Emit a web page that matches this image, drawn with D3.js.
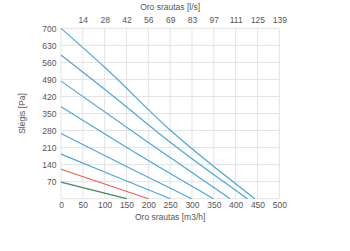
<!DOCTYPE html>
<html>
<head>
<meta charset="utf-8">
<script src="https://cdn.jsdelivr.net/npm/d3@7"></script>
<style>
  body { margin: 0; background: #fff; }
  text { font-family: "Liberation Sans", Arial, sans-serif; fill: #555; }
</style>
</head>
<body>
<svg id="chart"></svg>
<script>
var width = 350;
var height = 251;

// flow [m3/h], pressure [Pa]
var speed1 = [[0, 700], [100, 540], [250, 282], [444, 0]];
var speed2 = [[0, 590], [100, 450], [250, 232], [427, 0]];
var speed3 = [[0, 483], [200, 231], [387, 0]];
var speed4 = [[0, 378], [200, 157], [349, 0]];
var speed5 = [[0, 268], [150, 132], [299, 0]];
var speed6 = [[0, 183], [125, 91], [250, 0]];
var speedRed = [[0, 121], [200, 0]];
var speedGreen = [[0, 68], [150, 0]];

var blueLines = [speed1, speed2, speed3, speed4, speed5, speed6];

var xTicks = [0, 50, 100, 150, 200, 250, 300, 350, 400, 450, 500];
var yTicks = [70, 140, 210, 280, 350, 420, 490, 560, 630, 700];

var margin = { top: 28.3, right: 70.7, bottom: 52.3, left: 61 };

var svg = d3.select("#chart").attr("width", width).attr("height", height);

var x = d3.scaleLinear().domain([0, 500]).range([margin.left, width - margin.right]);
var y = d3.scaleLinear().domain([0, 700]).range([height - margin.bottom, margin.top]);

// grid
svg.append("g")
  .selectAll("line")
  .data(xTicks)
  .enter()
  .append("line")
  .attr("x1", function (d) { return x(d); })
  .attr("x2", function (d) { return x(d); })
  .attr("y1", y(0))
  .attr("y2", y(700))
  .attr("stroke", "#e3e3e3")
  .attr("stroke-width", 1);

svg.append("g")
  .selectAll("line")
  .data([0].concat(yTicks))
  .enter()
  .append("line")
  .attr("x1", x(0))
  .attr("x2", x(500))
  .attr("y1", function (d) { return y(d); })
  .attr("y2", function (d) { return y(d); })
  .attr("stroke", "#e3e3e3")
  .attr("stroke-width", 1);

// axes
var fontSize = "8.5px";

var bottomAxis = svg.append("g")
  .attr("transform", "translate(0," + y(0) + ")")
  .call(d3.axisBottom(x).tickValues(xTicks).tickSize(0).tickPadding(3));

var topAxis = svg.append("g")
  .attr("transform", "translate(0," + y(700) + ")")
  .call(d3.axisTop(x).tickValues(xTicks.slice(1)).tickSize(0).tickPadding(5)
    .tickFormat(function (d) { return Math.round(d / 3.6); }));

var leftAxis = svg.append("g")
  .attr("transform", "translate(" + x(0) + ",0)")
  .call(d3.axisLeft(y).tickValues(yTicks).tickSize(0).tickPadding(4.5));

[bottomAxis, topAxis, leftAxis].forEach(function (a) {
  a.select(".domain").remove();
  a.selectAll("text")
    .attr("fill", "#555")
    .style("font-size", fontSize)
    .style("font-family", "Liberation Sans, Arial, sans-serif");
});

// titles
svg.append("text")
  .attr("x", x(250))
  .attr("y", 220)
  .attr("text-anchor", "middle")
  .style("font-size", fontSize)
  .text("Oro srautas [m3/h]");

svg.append("text")
  .attr("x", x(250))
  .attr("y", 9.5)
  .attr("text-anchor", "middle")
  .style("font-size", fontSize)
  .text("Oro srautas [l/s]");

svg.append("text")
  .attr("transform", "translate(25," + y(350) + ") rotate(-90)")
  .attr("text-anchor", "middle")
  .style("font-size", fontSize)
  .text("Slėgis [Pa]");

// curves
var line = d3.line()
  .x(function (d) { return x(d[0]); })
  .y(function (d) { return y(d[1]); })
  .curve(d3.curveMonotoneX);

svg.append("g")
  .selectAll("path")
  .data(blueLines)
  .enter()
  .append("path")
  .attr("d", line)
  .attr("fill", "none")
  .attr("stroke", "#4ba7dd")
  .attr("stroke-width", 1.2);

svg.append("path")
  .datum(speedRed)
  .attr("d", line)
  .attr("fill", "none")
  .attr("stroke", "#ef5d55")
  .attr("stroke-width", 1.2);

svg.append("path")
  .datum(speedGreen)
  .attr("d", line)
  .attr("fill", "none")
  .attr("stroke", "#3f8a5c")
  .attr("stroke-width", 1.2);
</script>
</body>
</html>
